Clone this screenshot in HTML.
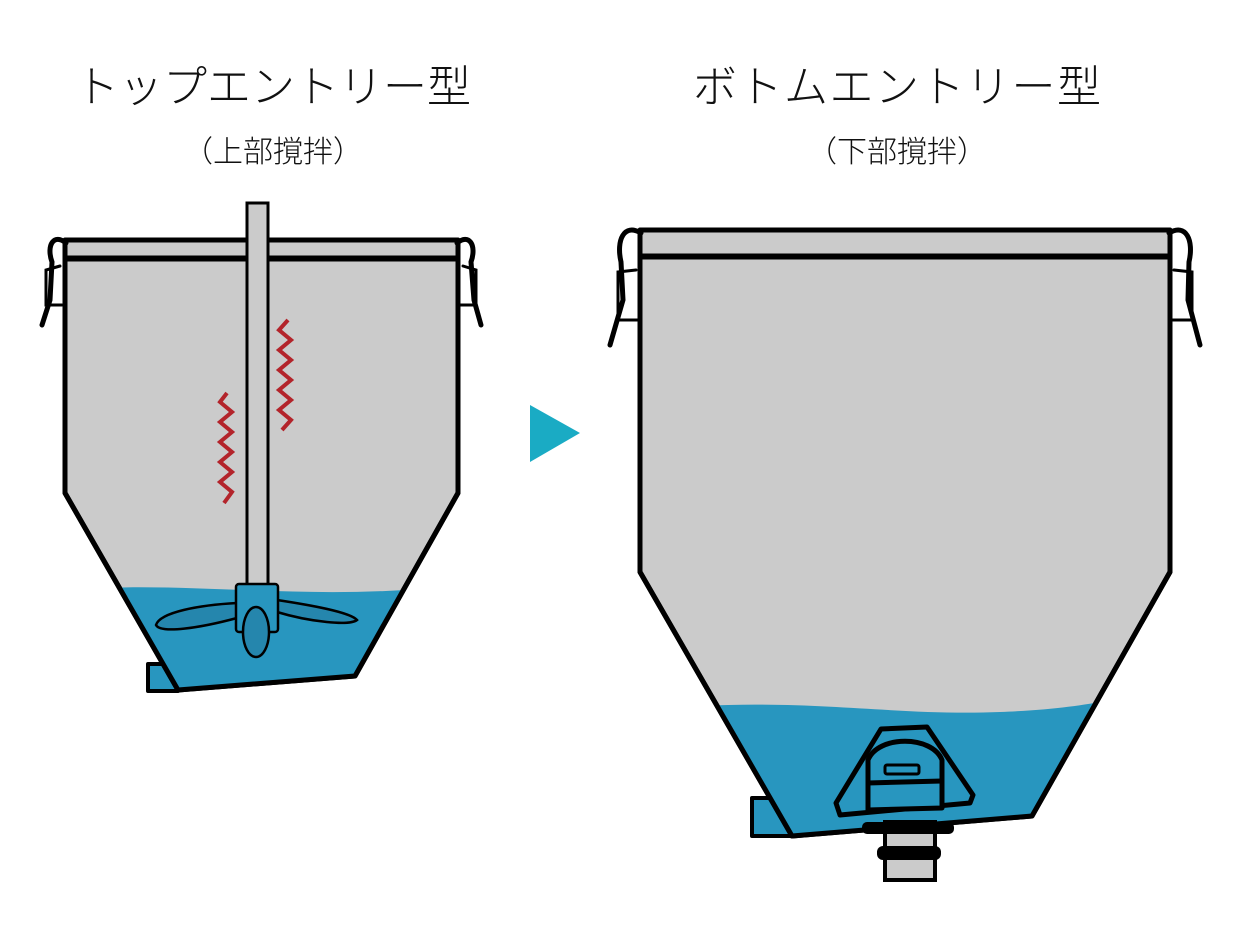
<!DOCTYPE html>
<html><head><meta charset="utf-8"><style>
html,body{margin:0;padding:0;background:#fff;}
svg{display:block;}
text{font-family:"Liberation Sans","Noto Sans CJK JP",sans-serif;fill:#111;}
</style></head><body>
<svg width="1246" height="933" viewBox="0 0 1246 933" xmlns="http://www.w3.org/2000/svg">
<text x="273" y="102" font-size="44" font-weight="300" text-anchor="middle" textLength="396">トップエントリー型</text>
<text x="273" y="162" font-size="30" font-weight="300" text-anchor="middle">（上部撹拌）</text>
<text x="897" y="102" font-size="44" font-weight="300" text-anchor="middle" textLength="408">ボトムエントリー型</text>
<text x="897" y="162" font-size="30" font-weight="300" text-anchor="middle">（下部撹拌）</text>

<polygon points="530,405 580,433 530,462" fill="#1aabc4"/>

<!-- LEFT TANK -->
<g stroke="#000" stroke-width="5" stroke-linejoin="round">
  <rect x="148" y="664" width="30" height="27" fill="#2896bf" stroke-width="4"/>
  <path d="M65,258 L458,258 L458,493 L355,676 L178,690 L65,493 Z" fill="#cbcbcb"/>
  <rect x="65" y="240" width="393" height="19" fill="#cbcbcb"/>
</g>
<clipPath id="cl"><path d="M65,258 L458,258 L458,493 L355,676 L178,690 L65,493 Z"/></clipPath>
<path clip-path="url(#cl)" d="M100,588 C200,584 300,598 420,589 L420,700 L100,700 Z" fill="#2896bf"/>
<path d="M65,258 L458,258 L458,493 L355,676 L178,690 L65,493 Z" fill="none" stroke="#000" stroke-width="5" stroke-linejoin="round"/>
<g stroke="#000" fill="none" stroke-width="5" stroke-linecap="round">
  <path d="M66,243 C54,233 46,245 52,262 L50,300 L42,325"/>
  <path d="M60,266 L46,270 L46,305 L62,305" stroke-width="3"/>
  <path d="M457,243 C469,233 477,245 471,262 L474,300 L481,325"/>
  <path d="M463,266 L476,270 L476,305 L460,305" stroke-width="3"/>
</g>
<rect x="247" y="203" width="21" height="385" fill="#cbcbcb" stroke="#000" stroke-width="3"/>
<g stroke="#000" stroke-width="2.5" fill="#2586ad">
  <path d="M237,603 C200,605 160,612 156,625 C160,634 200,628 237,618 Z"/>
  <path d="M277,600 C310,605 350,612 357,620 C350,626 310,622 277,612 Z"/>
  <rect x="236" y="584" width="42" height="48" rx="3" fill="#2896bf"/>
  <ellipse cx="256" cy="632" rx="13" ry="25" fill="#2586ad"/>
</g>
<g stroke="#b3242b" stroke-width="4" fill="none">
  <polyline points="227,393 220,402 232,412 220,422 232,432 220,442 232,452 220,462 232,472 220,482 232,492 224,503"/>
  <polyline points="288,320 279,330 291,340 279,350 291,360 279,370 291,380 279,390 291,400 279,410 291,420 282,430"/>
</g>

<!-- RIGHT TANK -->
<g stroke="#000" stroke-width="5" stroke-linejoin="round">
  <rect x="752" y="798" width="40" height="38" fill="#2896bf" stroke-width="4"/>
  <path d="M640,256 L1170,256 L1170,572 L1032,816 L792,836 L640,572 Z" fill="#cbcbcb"/>
  <rect x="640" y="230" width="530" height="27" fill="#cbcbcb"/>
</g>
<clipPath id="cr"><path d="M640,256 L1170,256 L1170,572 L1032,816 L792,836 L640,572 Z"/></clipPath>
<path clip-path="url(#cr)" d="M700,706 C820,700 900,716 1000,712 C1050,710 1080,706 1110,700 L1110,850 L700,850 Z" fill="#2896bf"/>
<path d="M640,256 L1170,256 L1170,572 L1032,816 L792,836 L640,572 Z" fill="none" stroke="#000" stroke-width="5" stroke-linejoin="round"/>
<g stroke="#000" fill="none" stroke-width="5" stroke-linecap="round">
  <path d="M641,233 C624,223 616,240 621,262 L623,300 L610,345"/>
  <path d="M636,270 L618,272 L618,320 L638,320" stroke-width="3"/>
  <path d="M1169,233 C1186,223 1194,240 1189,262 L1188,300 L1200,345"/>
  <path d="M1174,270 L1192,272 L1192,320 L1172,320" stroke-width="3"/>
</g>
<rect x="885" y="822" width="50" height="58" fill="#cbcbcb" stroke="#000" stroke-width="4"/>
<rect x="862" y="822" width="92" height="12" rx="5" fill="#000"/>
<rect x="877" y="846" width="64" height="14" rx="6" fill="#000"/>
<g stroke="#000" stroke-width="5" stroke-linejoin="round" fill="#2896bf">
  <path d="M881,729 L927,727 L973,795 L970,803 L840,815 L836,803 Z"/>
  <path d="M868,810 L868,760 C878,735 932,735 942,760 L942,808 Z"/>
  <line x1="868" y1="783" x2="942" y2="781"/>
  <rect x="885" y="765" width="34" height="9" rx="2" stroke-width="3"/>
</g>
</svg>
</body></html>
